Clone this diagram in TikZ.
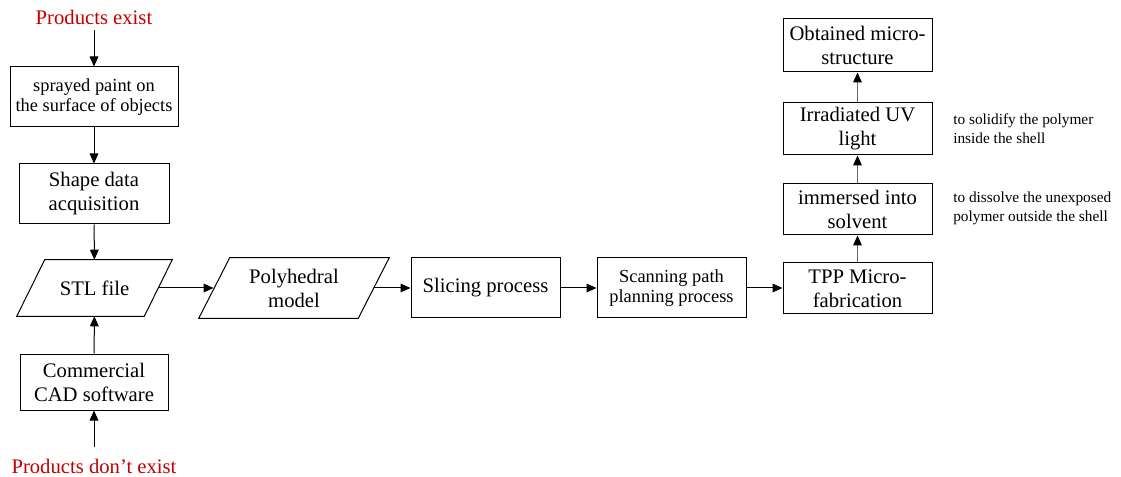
\documentclass[tikz,border=0pt]{standalone}
\usepackage{fontspec}
\setmainfont{Liberation Serif}
\usetikzlibrary{arrows.meta}
\definecolor{redtxt}{RGB}{192,0,0}
\definecolor{shaft}{RGB}{105,105,105}
\begin{document}
\begin{tikzpicture}[x=0.75pt,y=-0.75pt,
  box/.style={draw, line width=0.75pt, inner sep=0pt, align=center,
    font=\fontsize{15.5}{18}\selectfont},
  midbox/.style={box, font=\fontsize{13.8}{15.4}\selectfont},
  plainbox/.style={inner sep=0pt, align=center, font=\fontsize{15.5}{18}\selectfont},
  note/.style={inner sep=0pt, align=left, anchor=west, font=\fontsize{11.5}{14}\selectfont},
  redlabel/.style={inner sep=0pt, text=redtxt, font=\fontsize{15.5}{18}\selectfont},
  arr/.style={-{Triangle[length=7.5pt,width=6.5pt]}, line width=0.75pt},
  garr/.style={draw=shaft, -{Triangle[length=7.5pt,width=6.5pt,color=black]}, line width=0.75pt}
]
\useasboundingbox (0,0) rectangle (1121,477);

% left column
\node[redlabel] (pe) at (94,17) {Products exist};
\coordinate (pestart) at (94,30);
\node[midbox, minimum width=126pt, minimum height=45pt] (spray) at (94,97) {sprayed paint on\\the surface of objects};
\node[box, minimum width=112.5pt, minimum height=45pt] (shape) at (94,194) {Shape data\\acquisition};
\node[plainbox, minimum width=95.25pt, minimum height=42pt] (stl) at (94.5,288) {STL file};
\draw[line width=0.75pt] ([xshift=10.5pt]stl.north west) -- ([xshift=10.5pt]stl.north east)
  -- ([xshift=-10.5pt]stl.south east) -- ([xshift=-10.5pt]stl.south west) -- cycle;
\node[box, minimum width=111pt, minimum height=42pt] (cad) at (94,382) {Commercial\\CAD software};
\node[redlabel] (pne) at (94,466) {Products don’t exist};
\coordinate (pnestart) at (94,447);

% middle row
\node[plainbox, minimum width=119.25pt, minimum height=45pt] (poly) at (294,288) {Polyhedral\\model};
\draw[line width=0.75pt] ([xshift=11.6pt]poly.north west) -- ([xshift=11.6pt]poly.north east)
  -- ([xshift=-11.6pt]poly.south east) -- ([xshift=-11.6pt]poly.south west) -- cycle;
\node[box, minimum width=111.75pt, minimum height=45pt] (slice) at (485.5,288) {Slicing process};
\node[midbox, minimum width=111.75pt, minimum height=45pt] (scan) at (671.5,288) {Scanning path\\planning process};

% right column
\node[box, minimum width=111.75pt, minimum height=38.25pt] (tpp) at (857.5,288.5) {TPP Micro-\\fabrication};
\node[box, minimum width=111.75pt, minimum height=38.25pt] (imm) at (857.5,209.5) {immersed into\\solvent};
\node[box, minimum width=111.75pt, minimum height=39pt] (uv) at (857.5,129) {Irradiated UV\\light};
\node[box, minimum width=111.75pt, minimum height=39.75pt] (obt) at (857.5,45.5) {Obtained micro-\\structure};
\node[note] (n1) at (953,129) {to solidify the polymer\\inside the shell};
\node[note] (n2) at (953,208.5) {to dissolve the unexposed\\polymer outside the shell};

% connectors
\draw[arr] (pestart) -- (spray);
\draw[arr] (spray) -- (shape);
\draw[arr] (shape) -- (stl);
\draw[arr] (cad) -- (stl);
\draw[arr] (pnestart) -- (cad);
\draw[arr] (stl.east) -- ([xshift=-0.5pt]poly.west);
\draw[arr] (poly.east) -- (slice.west);
\draw[arr] (slice.east) -- (scan.west);
\draw[arr] (scan.east) -- (scan.east -| tpp.west);
\draw[garr] (tpp) -- (imm);
\draw[garr] (imm) -- (uv);
\draw[garr] (uv) -- (obt);
\end{tikzpicture}
\end{document}
